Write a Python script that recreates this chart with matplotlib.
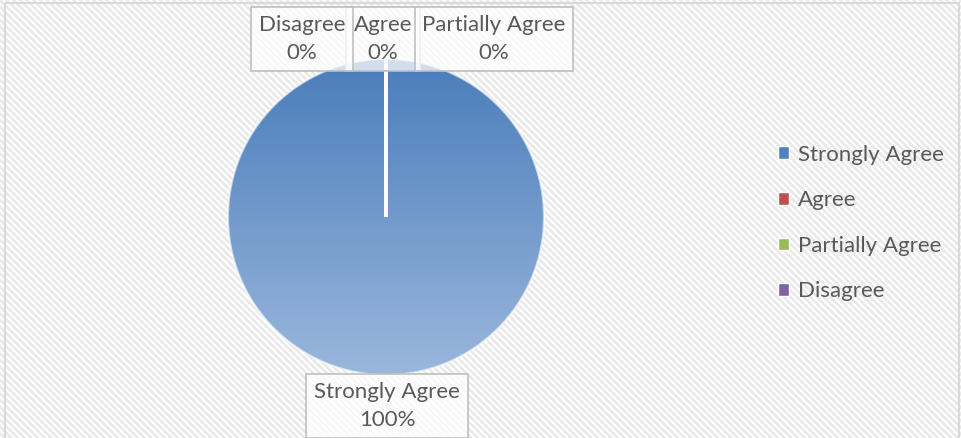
import numpy as np
import matplotlib.pyplot as plt
from matplotlib.patches import Patch, Rectangle
from matplotlib.colors import LinearSegmentedColormap

categories = ['Strongly Agree', 'Agree', 'Partially Agree', 'Disagree']
values = [100, 0, 0, 0]
colors = ['#4f81bd', '#c0504d', '#9bbb59', '#8064a2']
pct_labels = ['100%', '0%', '0%', '0%']

plt.rcParams['font.family'] = ['Lato', 'DejaVu Sans']
plt.rcParams['hatch.color'] = '#e9e9e9'
plt.rcParams['hatch.linewidth'] = 1.8

W, H = 962, 438
fig = plt.figure(figsize=(W / 100, H / 100), dpi=100)

# striped background and thin border
bg = fig.add_axes([0, 0, 1, 1])
bg.set_xlim(0, W)
bg.set_ylim(H, 0)
bg.axis('off')
bg.add_patch(Rectangle((0, 0), W, H, facecolor='white', edgecolor='#e9e9e9', linewidth=0,
                       hatch='\\\\\\\\\\', zorder=0))
bg.add_patch(Rectangle((5, 3), W - 8, H, facecolor='none', edgecolor='#d9d9d9', linewidth=1.5, zorder=1))

# pie
cx, cy, r = 386, 217, 158
ax = fig.add_axes([(cx - r) / W, (H - cy - r) / H, 2 * r / W, 2 * r / H])
wedges, _ = ax.pie(values, radius=1, startangle=90, counterclock=False, colors=colors,
                   wedgeprops=dict(edgecolor='white', linewidth=2.5))

grad = LinearSegmentedColormap.from_list('g', ['#4a7dbb', '#9ab7dc'])
img = ax.imshow(np.linspace(0, 1, 256).reshape(-1, 1), cmap=grad, extent=[-1, 1, -1, 1],
                aspect='auto', origin='upper', zorder=0.5)
img.set_clip_path(wedges[0])
for w in wedges:
    w.set_zorder(1)
wedges[0].set_facecolor('none')
wedges[0].set_edgecolor((1, 1, 1, 0.6))
wedges[0].set_linewidth(1.5)
ax.set_xlim(-1, 1)
ax.set_ylim(-1, 1)
ax.axis('off')

# data labels
label_pos = {'Strongly Agree': (387, 406), 'Agree': (383, 39),
             'Partially Agree': (494, 39), 'Disagree': (302, 39)}
for cat, pct in zip(categories, pct_labels):
    x, y = label_pos[cat]
    fig.text(x / W, 1 - y / H, f'{cat}\n{pct}', ha='center', va='center',
             fontsize=16, color='#595959', linespacing=1.55, zorder=5,
             bbox=dict(boxstyle='square,pad=0.35', facecolor=(1, 1, 1, 0.75),
                       edgecolor='#bfbfbf', linewidth=1.2))

handles = [Patch(facecolor=c, edgecolor='white') for c in colors]
fig.legend(handles, categories, loc='center left', bbox_to_anchor=(758 / W, 1 - 223 / H),
           frameon=False, fontsize=16, labelcolor='#595959', handlelength=0.5,
           handleheight=0.5, handletextpad=0.4, labelspacing=1.15)

fig.savefig('out.png', dpi=100)
